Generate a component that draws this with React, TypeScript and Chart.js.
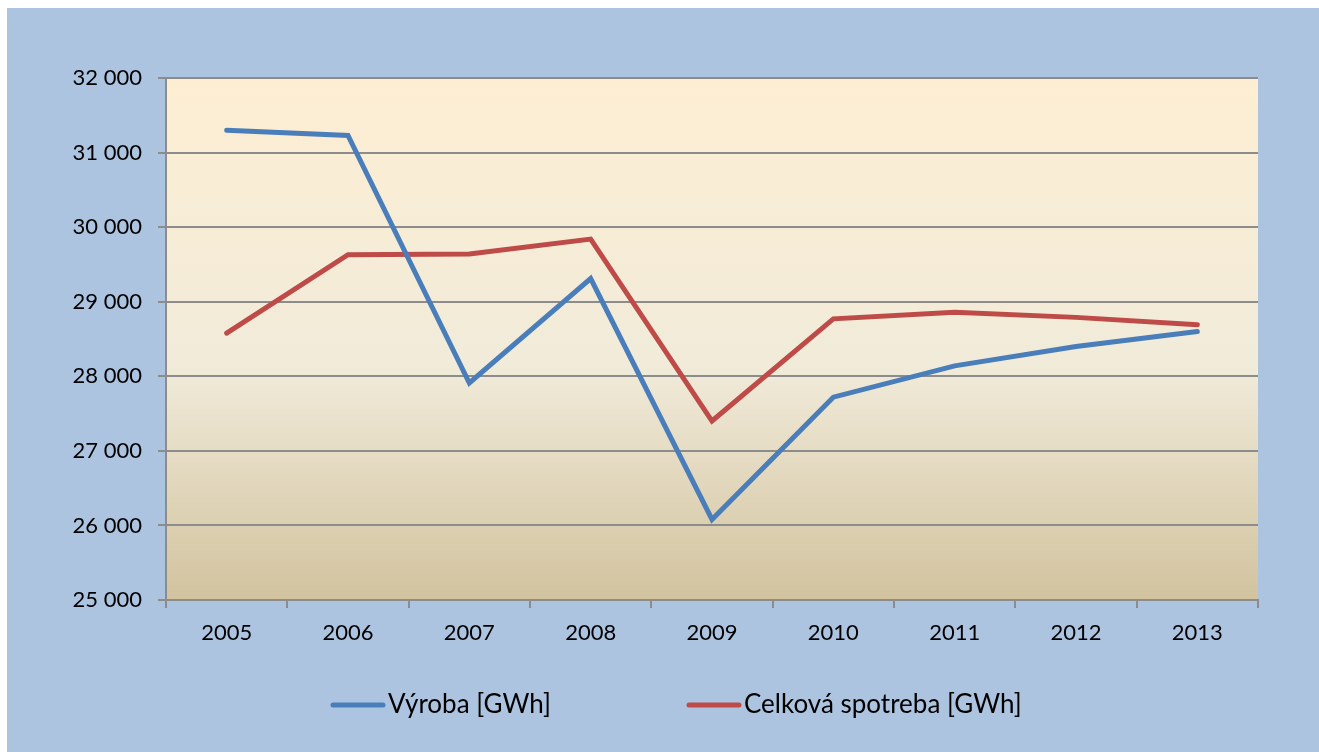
import React, { useEffect, useRef } from "react";
import { Chart, registerables } from "chart.js";

Chart.register(...registerables);

const categories = ["2005", "2006", "2007", "2008", "2009", "2010", "2011", "2012", "2013"];
const vyroba = [31300, 31230, 27910, 29310, 26080, 27720, 28140, 28400, 28600];
const spotreba = [28580, 29630, 29640, 29840, 27400, 28770, 28860, 28790, 28690];
const seriesLabels = ["Výroba [GWh]", "Celková spotreba [GWh]"];
const seriesColors = ["#4a7ebb", "#be4b48"];
const yMin = 25000;
const yMax = 32000;
const yStep = 1000;

const fmt = (v: number) => String(v).replace(/\B(?=(\d{3})+(?!\d))/g, " ");

const bgPlugin = {
  id: "bgPlugin",
  beforeDraw(chart: any) {
    const { ctx, chartArea, width, height } = chart;
    ctx.save();
    ctx.fillStyle = "#adc4e1";
    ctx.fillRect(0, 0, width, height);
    const g = ctx.createLinearGradient(0, chartArea.top, 0, chartArea.bottom);
    g.addColorStop(0, "#fdeed3");
    g.addColorStop(0.55, "#f1ebda");
    g.addColorStop(1, "#d2c39f");
    ctx.fillStyle = g;
    ctx.fillRect(chartArea.left, chartArea.top, chartArea.right - chartArea.left, chartArea.bottom - chartArea.top);
    ctx.restore();
  },
};

const legendPlugin = {
  id: "customLegend",
  afterDraw(chart: any) {
    const { ctx } = chart;
    const y = 697;
    const starts = [323, 679];
    ctx.save();
    ctx.font = "26px Lato";
    ctx.textBaseline = "middle";
    ctx.textAlign = "left";
    chart.data.datasets.forEach((ds: any, i: number) => {
      const x = starts[i];
      ctx.strokeStyle = ds.borderColor;
      ctx.lineWidth = 5;
      ctx.lineCap = "round";
      ctx.beginPath();
      ctx.moveTo(x + 3, y);
      ctx.lineTo(x + 53, y);
      ctx.stroke();
      ctx.fillStyle = "#000";
      ctx.fillText(ds.label, x + 58, y);
    });
    ctx.restore();
  },
};

export default function App() {
  const ref = useRef<HTMLCanvasElement>(null);
  useEffect(() => {
    document.documentElement.style.overflow = "hidden";
    document.body.style.overflow = "hidden";
    const chart = new Chart(ref.current!, {
      type: "line",
      data: {
        labels: categories,
        datasets: [
          { label: seriesLabels[0], data: vyroba, borderColor: seriesColors[0], backgroundColor: seriesColors[0] },
          { label: seriesLabels[1], data: spotreba, borderColor: seriesColors[1], backgroundColor: seriesColors[1] },
        ],
      },
      options: {
        animation: false,
        responsive: false,
        devicePixelRatio: 1,
        elements: {
          line: { borderWidth: 5, tension: 0, borderCapStyle: "round", borderJoinStyle: "miter" },
          point: { radius: 0, hoverRadius: 0 },
        },
        layout: { padding: { left: 0, top: 70, right: 61, bottom: 92 } },
        plugins: { legend: { display: false }, tooltip: { enabled: false } },
        scales: {
          x: {
            offset: true,
            grid: { offset: true, drawOnChartArea: false, drawTicks: true, tickLength: 8, color: "#8c8c8c", lineWidth: 2 },
            border: { color: "#8c8c8c", width: 2 },
            ticks: { color: "#000", font: { family: "Lato", size: 22 }, padding: 12, maxRotation: 0 },
            afterFit: (s: any) => { s.height = 60; },
          },
          y: {
            min: yMin,
            max: yMax,
            grid: { color: "#8c8c8c", lineWidth: 2, tickLength: 8 },
            border: { color: "#8c8c8c", width: 2 },
            ticks: { stepSize: yStep, color: "#000", font: { family: "Lato", size: 22 }, padding: 16, callback: (v: any) => fmt(Number(v)) },
            afterFit: (s: any) => { s.width = 159; },
          },
        },
      },
      plugins: [bgPlugin, legendPlugin],
    });
    return () => chart.destroy();
  }, []);
  return (
    <div style={{ position: "absolute", left: 7, top: 8, width: 1312, height: 744 }}>
      <canvas ref={ref} width={1312} height={744} style={{ display: "block", width: 1312, height: 744 }} />
    </div>
  );
}
